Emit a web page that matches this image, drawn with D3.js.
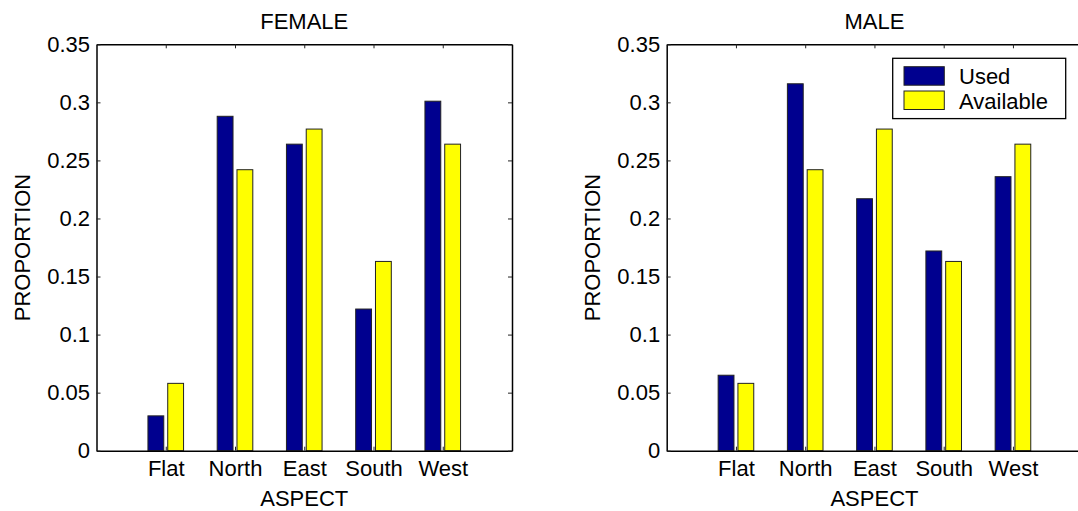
<!DOCTYPE html>
<html>
<head>
  <meta charset="utf-8">
  <title>Used vs available aspect</title>
  <script src="https://d3js.org/d3.v7.min.js"></script>
  <style>
    body { margin: 0; background: #fff; }
    text { font-family: "Liberation Sans", Arial, sans-serif; fill: #000; }
  </style>
</head>
<body>
  <script>
    // data
    var categories = ["Flat", "North", "East", "South", "West"];
    var seriesNames = ["Used", "Available"];
    var femaleUsed = [0.030, 0.288, 0.264, 0.122, 0.301];
    var maleUsed = [0.065, 0.316, 0.217, 0.172, 0.236];
    var available = [0.058, 0.242, 0.277, 0.163, 0.264];
    var yTicks = [0, 0.05, 0.1, 0.15, 0.2, 0.25, 0.3, 0.35];
    var colors = ["#00008f", "#ffff00"];

    var W = 1078, H = 511;
    var pw = 415.5, ph = 406.4, topY = 44.3;
    var fs = 22;

    var svg = d3.select("body").append("svg")
      .attr("width", W).attr("height", H);
    svg.append("rect").attr("width", W).attr("height", H).attr("fill", "#fff");

    var x = d3.scaleLinear().domain([0, 6]).range([0, pw]);
    var y = d3.scaleLinear().domain([0, 0.35]).range([ph, 0]);

    // matlab grouped bar geometry, 2 series
    var groupW = 2 / 3.5;
    var barW = groupW / 2 * 0.8;
    var offs = [-groupW / 4, groupW / 4];

    function panel(left, title, used, withLegend) {
      var g = svg.append("g").attr("transform", "translate(" + left + "," + topY + ")");
      var series = [used, available];

      series.forEach(function(vals, s) {
        g.selectAll(".bar" + s)
          .data(vals)
          .enter().append("rect")
          .attr("class", "bar" + s)
          .attr("x", function(d, i) { return x(i + 1 + offs[s] - barW / 2); })
          .attr("width", x(barW) - x(0))
          .attr("y", function(d) { return y(d); })
          .attr("height", function(d) { return y(0) - y(d); })
          .attr("fill", colors[s])
          .attr("stroke", "#222")
          .attr("stroke-width", 1);
      });

      var tickVals = d3.range(1, categories.length + 1);

      g.append("g").attr("transform", "translate(0," + ph + ")")
        .call(d3.axisBottom(x).tickValues(tickVals).tickSizeInner(-4).tickSizeOuter(0)
          .tickPadding(9.5).tickFormat(function(d) { return categories[d - 1]; }));
      g.append("g")
        .call(d3.axisTop(x).tickValues(tickVals).tickSizeInner(-4).tickSizeOuter(0).tickFormat(""));
      g.append("g")
        .call(d3.axisLeft(y).tickValues(yTicks).tickSizeInner(-4).tickSizeOuter(0)
          .tickPadding(6.5).tickFormat(d3.format("~g")));
      g.append("g").attr("transform", "translate(" + pw + ",0)")
        .call(d3.axisRight(y).tickValues(yTicks).tickSizeInner(-4).tickSizeOuter(0).tickFormat(""));

      g.selectAll(".domain").attr("stroke", "#000").attr("stroke-width", 1.5);
      g.selectAll(".tick line").attr("stroke", "#222").attr("stroke-width", 1);
      g.selectAll(".tick text").style("font-size", fs + "px")
        .style("font-family", "'Liberation Sans', Arial, sans-serif").attr("fill", "#000");

      g.append("text")
        .attr("x", pw / 2).attr("y", 29 - topY)
        .attr("text-anchor", "middle").style("font-size", fs + "px")
        .text(title);
      g.append("text")
        .attr("x", pw / 2).attr("y", 506 - topY)
        .attr("text-anchor", "middle").style("font-size", fs + "px")
        .text("ASPECT");
      g.append("text")
        .attr("transform", "translate(-66.5," + ph / 2 + ") rotate(-90)")
        .attr("text-anchor", "middle").style("font-size", fs + "px")
        .text("PROPORTION");

      if (withLegend) {
        var lg = g.append("g").attr("transform", "translate(226,14)");
        lg.append("rect").attr("width", 173).attr("height", 60.3)
          .attr("fill", "#fff").attr("stroke", "#000").attr("stroke-width", 1.3);
        seriesNames.forEach(function(name, s) {
          lg.append("rect")
            .attr("x", 11.3).attr("y", 8.4 + s * 24.3)
            .attr("width", 40.3).attr("height", 18.5)
            .attr("fill", colors[s]).attr("stroke", "#222").attr("stroke-width", 1);
          lg.append("text")
            .attr("x", 66.3).attr("y", 26 + s * 25)
            .style("font-size", fs + "px")
            .text(name);
        });
      }
    }

    panel(96.5, "FEMALE", femaleUsed, false);
    panel(666.7, "MALE", maleUsed, true);
  </script>
</body>
</html>
